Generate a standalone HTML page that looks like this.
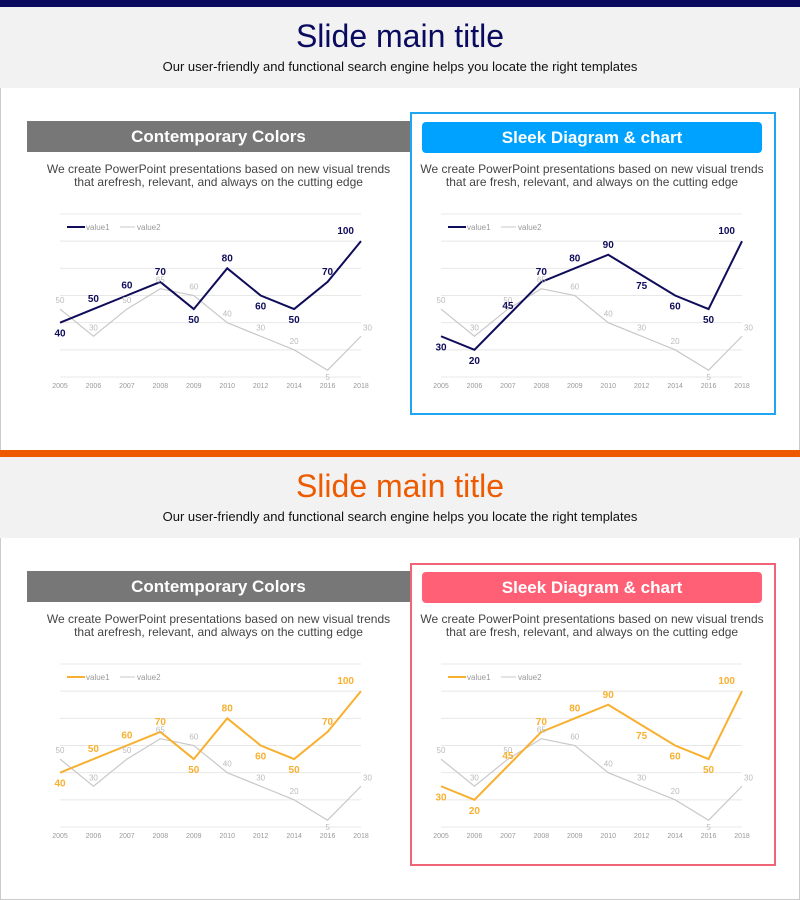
<!DOCTYPE html>
<html><head><meta charset="utf-8"><style>
body{margin:0;width:800px;height:900px;position:relative;overflow:hidden;background:#fff;font-family:"Liberation Sans",Arial,sans-serif}
.abs{position:absolute}
.band{left:0;width:800px;height:81px;background:#f2f2f2}
.title{left:0;width:800px;text-align:center;font-size:32px}
.sub{left:0;width:800px;text-align:center;font-size:13px;color:#111}
.hdr{color:#fff;font-weight:bold;font-size:17px;text-align:center;line-height:31px;height:31px}
.desc{font-size:12px;color:#444;text-align:center;line-height:13px}
svg{position:absolute;left:0}
</style></head><body>
<div class="abs" style="left:0;top:0;width:798px;height:898px;border:1px solid #ccc"></div>
<div class="abs" style="left:0;top:0;width:800px;height:7px;background:#0a0a5e"></div>
<div class="abs band" style="top:7px"></div>
<div class="abs title" style="top:18px;color:#0a0a5e">Slide main title</div>
<div class="abs sub" style="top:59px">Our user-friendly and functional search engine helps you locate the right templates</div>

<div class="abs hdr" style="left:27px;top:121px;width:383px;background:#777">Contemporary Colors</div>
<div class="abs desc" style="left:27px;top:163px;width:383px">We create PowerPoint presentations based on new visual trends<br>that arefresh, relevant, and always on the cutting edge</div>
<div class="abs" style="left:410px;top:112px;width:362px;height:299px;border:2px solid #1ea7f0"></div>
<div class="abs hdr" style="left:422px;top:122px;width:340px;background:#00a2ff;border-radius:4px">Sleek Diagram &amp; chart</div>
<div class="abs desc" style="left:412px;top:163px;width:360px">We create PowerPoint presentations based on new visual trends<br>that are fresh, relevant, and always on the cutting edge</div>

<div class="abs" style="left:0;top:450px;width:800px;height:7px;background:#ee5a00"></div>
<div class="abs band" style="top:457px"></div>
<div class="abs title" style="top:468px;color:#ee5a00">Slide main title</div>
<div class="abs sub" style="top:509px">Our user-friendly and functional search engine helps you locate the right templates</div>

<div class="abs hdr" style="left:27px;top:571px;width:383px;background:#777">Contemporary Colors</div>
<div class="abs desc" style="left:27px;top:613px;width:383px">We create PowerPoint presentations based on new visual trends<br>that arefresh, relevant, and always on the cutting edge</div>
<div class="abs" style="left:410px;top:563px;width:362px;height:299px;border:2px solid #f06478"></div>
<div class="abs hdr" style="left:422px;top:572px;width:340px;background:#ff6075;border-radius:4px">Sleek Diagram &amp; chart</div>
<div class="abs desc" style="left:412px;top:613px;width:360px">We create PowerPoint presentations based on new visual trends<br>that are fresh, relevant, and always on the cutting edge</div>

<svg id="c1" width="800" height="450" style="top:0"></svg>
<svg id="c2" width="800" height="450" style="top:0"></svg>
<svg id="c3" width="800" height="450" style="top:450px"></svg>
<svg id="c4" width="800" height="450" style="top:450px"></svg>
<script>
const categories=["2005","2006","2007","2008","2009","2010","2012","2014","2016","2018"];
const leftValue1=[40,50,60,70,50,80,60,50,70,100];
const rightValue1=[30,20,45,70,80,90,75,60,50,100];
const value2=[50,30,50,65,60,40,30,20,5,30];
const yMax=120, yTicks=[0,20,40,60,80,100,120];
const NS="http://www.w3.org/2000/svg";
function mk(svg,tag,attrs,text){const e=document.createElementNS(NS,tag);for(const k in attrs)e.setAttribute(k,attrs[k]);if(text!==undefined)e.textContent=text;svg.appendChild(e);return e;}
function draw(id,x0,v1,color){
  const svg=document.getElementById(id);
  const x1=x0+301, yTop=214, yBot=377;
  const X=i=>x0+(x1-x0)*i/(categories.length-1);
  const Y=v=>yBot-(yBot-yTop)*v/yMax;
  yTicks.forEach(t=>{const g=mk(svg,'line',{x1:x0,x2:x1,y1:Y(t),y2:Y(t),stroke:'#e8e8e8','stroke-width':1});
    
    });
  categories.forEach((c,i)=>{const t=mk(svg,'text',{x:X(i),y:yBot+11,'font-size':7,fill:'#999','text-anchor':'middle'},c);
    
    });
  const p2=mk(svg,'polyline',{points:value2.map((v,i)=>X(i)+','+Y(v)).join(' '),fill:'none',stroke:'#c8c8c8','stroke-width':1.2});
  
  
  const p1=mk(svg,'polyline',{points:v1.map((v,i)=>X(i)+','+Y(v)).join(' '),fill:'none',stroke:color,'stroke-width':2});
  
  
  value2.forEach((v,i)=>{const t=mk(svg,'text',{x:X(i)+(i==categories.length-1?2:0),y:Y(v)-(i==8?-10:6),'font-size':8,fill:'#bbb','text-anchor':i==categories.length-1?'start':'middle'},v);
    
    });
  v1.forEach((v,i)=>{const above=i>0&&v>v1[i-1];const last=i==categories.length-1;
    const t=mk(svg,'text',{x:X(i)-(last?7:0),y:Y(v)+(above?-7:14),'font-size':10,'font-weight':'bold',fill:color,'text-anchor':last?'end':'middle'},v);
    
    });
  const lx=x0+7,ly=227;
  const l1=mk(svg,'line',{x1:lx,x2:lx+18,y1:ly,y2:ly,stroke:color,'stroke-width':2});
  
  
  const t1=mk(svg,'text',{x:lx+19,y:ly+3,'font-size':8,fill:'#999'},'value1');
  
  
  const l2=mk(svg,'line',{x1:lx+53,x2:lx+68,y1:ly,y2:ly,stroke:'#c8c8c8','stroke-width':1});
  
  
  const t2=mk(svg,'text',{x:lx+70,y:ly+3,'font-size':8,fill:'#999'},'value2');
  
  
}
draw('c1',60,leftValue1,'#0f0c5a');
draw('c2',441,rightValue1,'#0f0c5a');
draw('c3',60,leftValue1,'#f8b030');
draw('c4',441,rightValue1,'#f8b030');
</script>
</body></html>
